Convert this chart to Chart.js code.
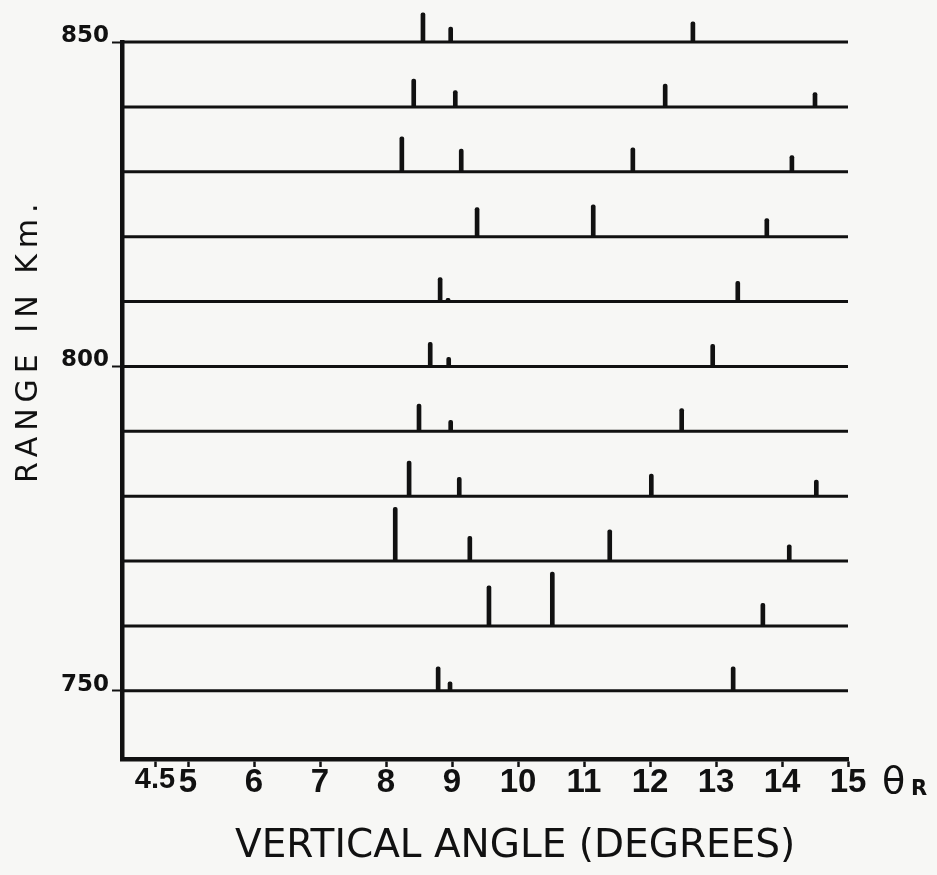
<!DOCTYPE html>
<html>
<head>
<meta charset="utf-8">
<script src="https://cdn.jsdelivr.net/npm/chart.js@4.4.1/dist/chart.umd.min.js"></script>
<style>
  html, body { margin: 0; padding: 0; background: #f7f7f5; }
  #wrap { width: 937px; height: 875px; }
</style>
</head>
<body>
<div id="wrap"><canvas id="chartCanvas" width="937" height="875"></canvas></div>
<script>
// 거리(km)별 수직각 피크 그래프
const ranges = [850, 840, 830, 820, 810, 800, 790, 780, 770, 760, 750];

// 각 거리에서 피크가 나타나는 수직각 (도)
const peakAngles = [
  [8.56, 8.98, 12.65],
  [8.42, 9.05, 12.23, 14.5],
  [8.24, 9.14, 11.74, 14.15],
  [9.38, 11.14, 13.77],
  [8.82, 8.94, 13.33],
  [8.67, 8.95, 12.95],
  [8.5, 8.98, 12.48],
  [8.35, 9.11, 12.02, 14.52],
  [8.14, 9.27, 11.39, 14.11],
  [9.56, 10.52, 13.71],
  [8.79, 8.97, 13.26]
];

// 피크 높이 (y축 km 눈금 기준)
const peakHeights = [
  [4.5, 2.3, 3.1],
  [4.3, 2.5, 3.5, 2.2],
  [5.4, 3.5, 3.7, 2.5],
  [4.5, 4.9, 2.8],
  [3.7, 0.5, 3.1],
  [3.7, 1.4, 3.4],
  [4.2, 1.7, 3.5],
  [5.4, 2.9, 3.4, 2.5],
  [8.3, 3.8, 4.8, 2.5],
  [6.2, 8.3, 3.5],
  [3.7, 1.4, 3.7]
];

const xTicks = [4.5, 5, 6, 7, 8, 9, 10, 11, 12, 13, 14, 15];
const yTicks = [750, 800, 850];
const xTitle = "VERTICAL ANGLE (DEGREES)";
const yTitle = "RANGE IN Km.";

const ink = '#111';

// 거리마다 기준선 (4도 ~ 15도)
const baseLines = ranges.map(r => ({
  type: 'scatter',
  label: r + ' km',
  data: [{ x: 4, y: r }, { x: 15, y: r }],
  showLine: true,
  borderColor: ink,
  borderWidth: 3,
  pointRadius: 0,
  clip: false
}));

// 피크는 떠 있는 막대로 (기준선 ~ 기준선+높이)
const peakData = [];
ranges.forEach((r, i) => {
  peakAngles[i].forEach((a, j) => {
    peakData.push({ x: a, y: [r, r + peakHeights[i][j]] });
  });
});

const peaks = {
  type: 'bar',
  label: 'peaks',
  data: peakData,
  backgroundColor: ink,
  barThickness: 4,
  borderRadius: { topLeft: 2, topRight: 2 },
  borderSkipped: false,
  clip: false
};

// 축 제목과 θR 표시
const titlePlugin = {
  id: 'axisTitles',
  afterDraw(chart) {
    const ctx = chart.ctx;
    const xs = chart.scales.x;
    ctx.save();
    ctx.fillStyle = ink;
    ctx.textBaseline = 'alphabetic';
    ctx.textAlign = 'left';

    ctx.font = '39px "DejaVu Sans"';
    ctx.fillText(xTitle, 235, 857);

    ctx.save();
    ctx.translate(37, 483);
    ctx.rotate(-Math.PI / 2);
    ctx.font = '30px "DejaVu Sans"';
    ctx.letterSpacing = '6px';
    ctx.fillText(yTitle, 0, 0);
    ctx.restore();

    const x15 = xs.getPixelForValue(15);
    ctx.font = '38px "DejaVu Sans"';
    ctx.fillText('θ', x15 + 34, 793);
    ctx.font = 'bold 21px "DejaVu Sans"';
    ctx.fillText('R', x15 + 63, 795);
    ctx.restore();
  }
};

const tickFamily = '"Liberation Sans", Arial, sans-serif';

const ctx = document.getElementById('chartCanvas').getContext('2d');
window.currentChart = new Chart(ctx, {
  type: 'scatter',
  data: { datasets: [...baseLines, peaks] },
  plugins: [titlePlugin],
  options: {
    responsive: false,
    animation: false,
    layout: { padding: { top: 42, right: 89, bottom: 0, left: 0 } },
    plugins: {
      legend: { display: false },
      tooltip: { enabled: false }
    },
    scales: {
      x: {
        type: 'linear',
        min: 4,
        max: 15,
        offset: false,
        afterBuildTicks: s => { s.ticks = xTicks.map(v => ({ value: v })); },
        afterFit: s => { s.height = 116; },
        grid: { offset: false, drawOnChartArea: false, drawTicks: true, tickLength: 8, tickWidth: 2.5, color: ink },
        border: { display: true, color: ink, width: 4.5 },
        ticks: {
          color: ink,
          padding: -4,
          autoSkip: false,
          maxRotation: 0,
          // 4.5 라벨은 5와 겹치지 않게 조금 작게
          font: c => (c.tick && c.tick.value === 4.5)
            ? { family: tickFamily, weight: 'bold', size: 29 }
            : { family: tickFamily, weight: 'bold', size: 33 },
          callback: v => String(v)
        }
      },
      y: {
        type: 'linear',
        min: 739.5,
        max: 850,
        beginAtZero: false,
        afterBuildTicks: s => { s.ticks = yTicks.map(v => ({ value: v })); },
        afterFit: s => { s.width = 122; },
        grid: { drawOnChartArea: false, drawTicks: true, tickLength: 10, tickWidth: 2, color: ink },
        border: { display: true, color: ink, width: 4.5 },
        ticks: {
          color: ink,
          padding: 3,
          labelOffset: -6,
          font: { family: '"DejaVu Sans"', weight: 'bold', size: 23 },
          callback: v => String(v)
        }
      }
    }
  }
});
</script>
</body>
</html>
